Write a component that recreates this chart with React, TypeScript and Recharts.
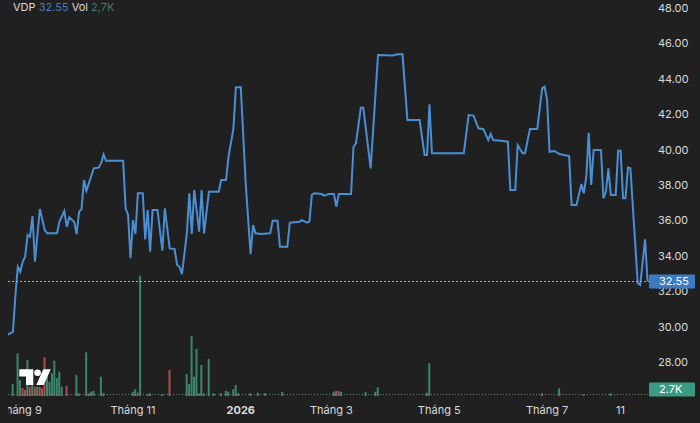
import React from "react";
import { LineChart, Line, XAxis, YAxis, ReferenceLine, BarChart, Bar, Cell } from "recharts";

const symbol = "VDP";
const lastPrice = 32.55;
const lastVolume = 2.7;

const priceDays = [
  0, 2, 3, 4, 5, 6, 7, 8, 9, 10, 11, 13, 15, 16, 20, 21, 23, 24, 25, 27, 28, 29, 30, 31, 32, 35, 37, 38, 39, 40,
  47, 48, 49, 50, 51, 52, 53, 55, 56, 57, 58, 59, 61, 63, 64, 66, 68, 69, 70, 71, 73, 74, 75, 76, 78, 79, 80, 82,
  86, 87, 89, 90, 92, 93, 95, 97, 99, 100, 101, 103, 107, 108, 110, 111, 114, 115, 119, 120, 122, 123, 124, 125,
  128, 129, 131, 133, 134, 135, 140, 141, 142, 144, 145, 148, 151, 157, 159, 161, 163, 168, 170, 171, 172, 173,
  186, 188, 190, 192, 194, 196, 197, 198, 202, 204, 205, 207, 208, 210, 211, 213, 216, 218, 219, 220, 221, 223,
  225, 229, 230, 232, 234, 235, 236, 237, 238, 239, 242, 243, 244, 245, 246, 248, 249, 250, 251, 252, 253, 254,
  257, 258, 260, 261,
];

const priceValues = [
  29.55, 29.7, 31.7, 33.38, 33.1, 33.67, 33.95, 35.18, 35.08, 36.25, 33.67, 36.64, 35.46, 35.27, 35.27, 35.93,
  36.53, 35.64, 36.18, 35.93, 35.23, 36.49, 36.64, 38.28, 37.68, 38.94, 38.98, 39.23, 39.73, 39.37,
  39.37, 36.68, 36.31, 33.86, 36.02, 35.23, 37.53, 37.53, 34.93, 36.59, 34.23, 36.59, 36.59, 34.29, 36.68, 34.42,
  34.38, 33.48, 33.38, 32.97, 35.27, 37.53, 35.23, 37.72, 35.36, 37.72, 35.27, 37.62,
  37.62, 38.28, 38.28, 39.6, 41.2, 43.52, 43.52, 38.1, 34.1, 35.74, 35.27, 35.23, 35.27, 35.98, 35.98, 34.51,
  34.51, 35.87, 35.93, 36.02, 35.87, 35.93, 37.44, 37.53,
  37.49, 37.4, 37.49, 37.49, 36.77, 37.49, 37.49, 40.16, 40.35, 42.37, 42.37, 38.94, 45.34, 45.31, 45.38, 45.38,
  41.67, 41.67, 39.69, 39.69, 42.56, 39.79,
  39.79, 41.95, 41.92, 41.2, 41.15, 40.54, 40.88, 40.54, 40.49, 40.45, 37.72, 37.72, 40.26, 39.79, 39.79, 41.16,
  41.16, 43.46, 43.55, 42.8, 39.88, 39.92,
  39.75, 39.64, 36.87, 36.87, 38.06, 37.53, 38.47, 40.95, 38.0, 39.98, 39.98, 37.25, 37.62, 38.94, 37.44, 37.44,
  39.94, 39.94, 37.25, 37.25, 38.98, 38.94,
  32.45, 32.35, 34.93, 32.55,
];

const volumeDays = [
  2, 4, 5, 6, 7, 8, 9, 10, 11, 12, 13, 14, 15, 16, 17, 18, 19, 20, 21, 22, 24, 28, 29, 32, 33, 34, 35, 38, 39,
  51, 52, 53, 54, 57, 58, 63, 66, 73, 74, 75, 76, 77, 78, 79, 80, 82, 84, 87, 89, 90, 92, 93, 94, 99, 102, 105,
  112, 133, 134, 135, 136, 146, 150, 151, 171, 172, 218, 225, 235, 246,
];

const volumeValues = [
  21.6, 76.9, 28.8, 14.4, 10.8, 64.8, 16.7, 19.8, 16.7, 16.7, 16.7, 13.9, 69.7, 37.8, 25.7, 40.9, 63.5, 31.9,
  43.7, 16.7, 18.5, 37.8, 4.9, 78.7, 4.9, 7.7, 9.0, 34.7, 4.9,
  7.7, 12.1, 6.0, 216.5, 3.6, 4.9, 3.6, 46.8, 39.6, 21.6, 108, 34.7, 84.6, 4.9, 55.8, 4.9, 66.6, 4.9, 4.9, 9.0,
  7.7, 12.1, 19.8, 4.9, 4.9, 6.0, 4.9,
  7.2, 7.7, 9.5, 9.0, 7.7, 7.2, 7.7, 15.7, 6.0, 58.9, 4.9, 13.9, 3.0, 4.9,
];

const volumeDirections = [
  "u", "u", "u", "d", "d", "u", "d", "u", "d", "u", "d", "d", "d", "u", "u", "u", "u", "u", "u", "u", "d", "u",
  "u", "u", "u", "u", "u", "u", "u",
  "u", "u", "u", "u", "u", "u", "u", "d", "u", "u", "u", "u", "u", "u", "u", "u", "u", "u", "u", "u", "u", "u",
  "u", "u", "u", "u", "u",
  "u", "u", "d", "d", "u", "u", "u", "u", "u", "u", "u", "u", "d", "u",
];

const xTicks = [5, 51, 95, 132, 176, 220, 250];
const xTickLabels = ["Tháng 9", "Tháng 11", "2026", "Tháng 3", "Tháng 5", "Tháng 7", "11"];
const yTicks = [28, 30, 32, 34, 36, 38, 40, 42, 44, 46, 48];

const priceData = priceDays.map((d, i) => ({ d, p: priceValues[i] }));
const volumeData = volumeDays.map((d, i) => ({ d, v: volumeValues[i], dir: volumeDirections[i] }));

const FONT = "Inter, 'Noto Sans', sans-serif";
const TEXT = "#d9dadd";
const LINE = "#4a8fd4";
const UP = "#3b876c";
const DOWN = "#a8524d";
const PRICE_DOMAIN: [number, number] = [25.97, 48.45];
const X_DOMAIN: [number, number] = [0, 262];

const XTick = (props: any) => {
  const { x, y, payload } = props;
  const idx = xTicks.indexOf(payload.value);
  const label = idx >= 0 ? xTickLabels[idx] : "";
  return (
    <text
      x={x}
      y={y}
      dy={8}
      textAnchor="middle"
      fill={TEXT}
      fontSize={11}
      fontFamily={FONT}
      fontWeight={label === "2026" ? 700 : 400}
    >
      {label}
    </text>
  );
};

const PriceBox = (props: any) => {
  const vb = props.viewBox || {};
  const x = (vb.x || 0) + (vb.width || 0);
  const y = vb.y || 0;
  return (
    <g>
      <rect x={x - 1} y={y - 7} width={46} height={14} fill="#3a7bc2" rx={1} />
      <text x={x + 9} y={y} dy="0.36em" fill="#ffffff" fontSize={11} fontFamily={FONT}>
        {lastPrice.toFixed(2)}
      </text>
    </g>
  );
};

const VolBox = (props: any) => {
  const vb = props.viewBox || {};
  const x = (vb.x || 0) + (vb.width || 0);
  const y = vb.y || 0;
  return (
    <g>
      <rect x={x - 1} y={y - 12} width={46} height={14} fill="#3a9a84" rx={1} />
      <text x={x + 9} y={y - 5} dy="0.36em" fill="#ffffff" fontSize={11} fontFamily={FONT}>
        {`${lastVolume}K`}
      </text>
    </g>
  );
};

export default function App() {
  return (
    <div
      style={{
        position: "absolute",
        left: 0,
        top: 0,
        width: 700,
        height: 423,
        background: "#202020",
        fontFamily: FONT,
        overflow: "hidden",
      }}
    >
      <div style={{ position: "absolute", left: 8, top: 0, width: 692, height: 423, overflow: "hidden" }}>
        <LineChart width={692} height={423} data={priceData} margin={{ top: 0, right: 0, bottom: 0, left: 0 }}>
          <XAxis
            type="number"
            dataKey="d"
            domain={X_DOMAIN}
            ticks={xTicks}
            interval={0}
            tick={<XTick />}
            axisLine={false}
            tickLine={false}
            tickSize={0}
            tickMargin={8}
            height={25}
            allowDataOverflow
          />
          <YAxis
            orientation="right"
            domain={PRICE_DOMAIN}
            ticks={yTicks}
            interval={0}
            width={50}
            axisLine={false}
            tickLine={false}
            tickSize={0}
            tickMargin={8}
            tick={{ fill: TEXT, fontSize: 11, fontFamily: FONT, textAnchor: "start" }}
            tickFormatter={(v: number) => v.toFixed(2)}
            allowDataOverflow
          />
          <Line
            type="linear"
            dataKey="p"
            stroke={LINE}
            strokeWidth={2}
            dot={false}
            activeDot={false}
            isAnimationActive={false}
          />
        </LineChart>
        <div style={{ position: "absolute", left: 0, top: 0 }}>
          <BarChart width={692} height={423} data={volumeData} margin={{ top: 0, right: 50, bottom: 25, left: 0 }}>
            <XAxis hide type="number" dataKey="d" domain={X_DOMAIN} allowDataOverflow />
            <YAxis hide yAxisId="vol" domain={[-3.6, 712.8]} allowDataOverflow />
            <YAxis hide yAxisId="price" domain={PRICE_DOMAIN} allowDataOverflow />
            <Bar yAxisId="vol" dataKey="v" barSize={2} isAnimationActive={false}>
              {volumeData.map((row, i) => (
                <Cell key={i} fill={row.dir === "u" ? UP : DOWN} />
              ))}
            </Bar>
            <ReferenceLine
              yAxisId="vol"
              y={lastVolume}
              stroke="#6f7c77"
              strokeDasharray="1 2"
              strokeWidth={1}
              label={VolBox}
            />
            <ReferenceLine
              yAxisId="price"
              y={lastPrice}
              stroke="#9fb1c6"
              strokeDasharray="2 2"
              strokeWidth={1}
              label={PriceBox}
            />
          </BarChart>
        </div>
      </div>
      <svg
        width={700}
        height={423}
        style={{ position: "absolute", left: 0, top: 0, pointerEvents: "none" }}
      >
        <path d="M19.3 369.3 H33.3 V385 H26 V376.5 H19.3 Z" fill="#ffffff" />
        <circle cx={37.6} cy={372.8} r={3.3} fill="#ffffff" />
        <path d="M43.3 369.3 H50.8 L43.6 385 H36.2 Z" fill="#ffffff" />
      </svg>
      <div
        style={{
          position: "absolute",
          left: 13,
          top: 0,
          fontSize: 11,
          lineHeight: "15px",
          color: TEXT,
          whiteSpace: "nowrap",
        }}
      >
        <span>{symbol}</span> <span style={{ color: "#4c7db3" }}>{lastPrice.toFixed(2)}</span>{" "}
        <span>Vol</span>{" "}
        <span style={{ color: "#3b7c69" }}>{`${String(lastVolume).replace(".", ",")}K`}</span>
      </div>
    </div>
  );
}
